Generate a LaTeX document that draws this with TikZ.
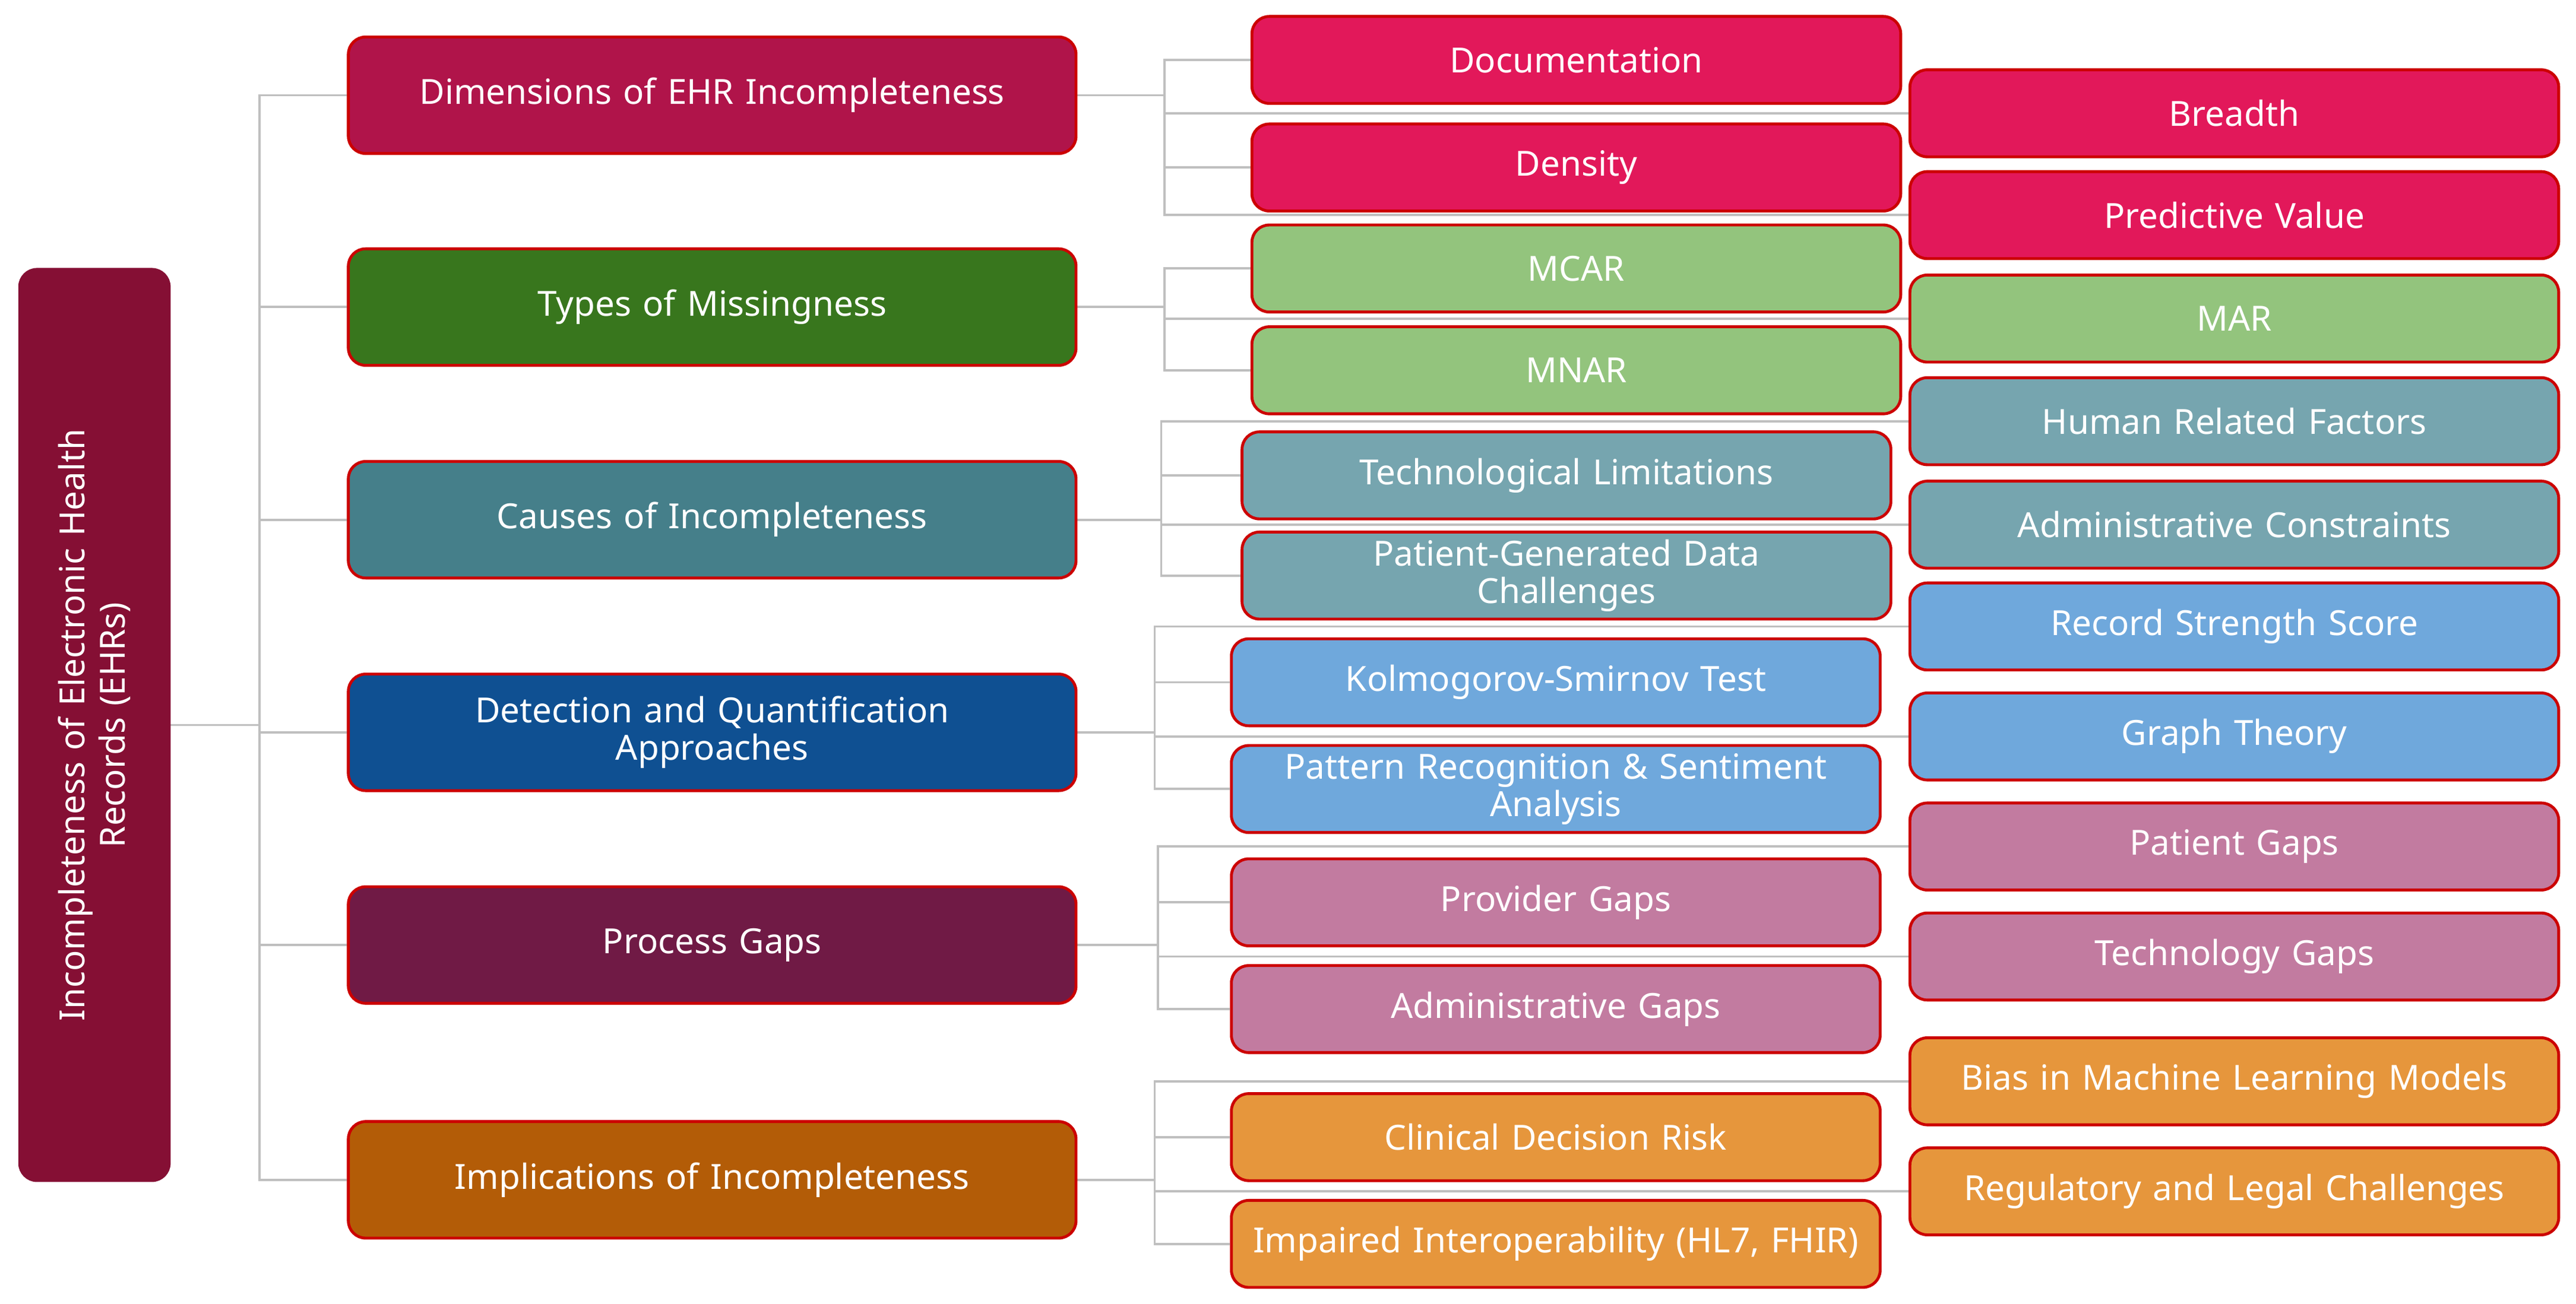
\documentclass[tikz,border=0pt]{standalone}
\usepackage{fontspec}
\setmainfont{Noto Sans}
\usetikzlibrary{backgrounds}
\begin{document}
\begin{tikzpicture}[x=0.02cm,y=-0.02cm,
 conn/.style={draw=black!25,line width=0.8pt},
 bx/.style={rounded corners=6pt,draw=#1,line width=1pt,text=white,align=center,font=\fontsize{12}{13}\selectfont,inner sep=1pt},
 l1/.style={bx=red!80!black,minimum width=8.86cm,minimum height=1.42cm,text width=8cm},
 l2/.style={bx=red!80!black,minimum width=7.9cm,minimum height=1.06cm,text width=7.6cm}]
\definecolor{cD}{HTML}{B0144A}\definecolor{cT}{HTML}{38761D}\definecolor{cC}{HTML}{457F8A}
\definecolor{cE}{HTML}{0F5092}\definecolor{cP}{HTML}{701A45}\definecolor{cI}{HTML}{B35C07}
\definecolor{kD}{HTML}{E2185A}\definecolor{kT}{HTML}{93C47D}\definecolor{kC}{HTML}{76A5AF}
\definecolor{kE}{HTML}{6FA8DC}\definecolor{kP}{HTML}{C27BA0}\definecolor{kI}{HTML}{E6963C}
\definecolor{root}{HTML}{850F34}
\useasboundingbox (0,0) rectangle (1568,794);
\node[bx=root,fill=root,rotate=90,minimum width=11.1cm,minimum height=1.82cm,text width=10.5cm,font=\bfseries\fontsize{12}{14}\selectfont] (r) at (57.5,441.5) {Incompleteness of Electronic Health\\Records (EHRs)};
% level 1
\node[l1,fill=cD] (a) at (433.5,58) {Dimensions of EHR Incompleteness};
\node[l1,fill=cT] (b) at (433.5,187) {Types of Missingness};
\node[l1,fill=cC] (c) at (433.5,316.5) {Causes of Incompleteness};
\node[l1,fill=cE] (d) at (433.5,446) {Detection and Quantification\\Approaches};
\node[l1,fill=cP] (e) at (433.5,575.5) {Process Gaps};
\node[l1,fill=cI] (f) at (433.5,718.5) {Implications of Incompleteness};
% level 2
\node[l2,fill=kD] (a1) at (959.5,36.5) {Documentation};
\node[l2,fill=kD] (a2) at (1360,69) {Breadth};
\node[l2,fill=kD] (a3) at (959.5,102) {Density};
\node[l2,fill=kD] (a4) at (1360,131) {Predictive Value};
\node[l2,fill=kT] (b1) at (959.5,163.5) {MCAR};
\node[l2,fill=kT] (b2) at (1360,194) {MAR};
\node[l2,fill=kT] (b3) at (959.5,225.5) {MNAR};
\node[l2,fill=kC] (c1) at (1360,256.5) {Human Related Factors};
\node[l2,fill=kC] (c2) at (953.5,289.5) {Technological Limitations};
\node[l2,fill=kC] (c3) at (1360,319.5) {Administrative Constraints};
\node[l2,fill=kC] (c4) at (953.5,350.5) {Patient-Generated Data\\Challenges};
\node[l2,fill=kE] (d1) at (1360,381.5) {Record Strength Score};
\node[l2,fill=kE] (d2) at (947,415.5) {Kolmogorov-Smirnov Test};
\node[l2,fill=kE] (d3) at (1360,448.5) {Graph Theory};
\node[l2,fill=kE] (d4) at (947,480.5) {Pattern Recognition \& Sentiment\\Analysis};
\node[l2,fill=kP] (e1) at (1360,515.5) {Patient Gaps};
\node[l2,fill=kP] (e2) at (947,549.5) {Provider Gaps};
\node[l2,fill=kP] (e3) at (1360,582.5) {Technology Gaps};
\node[l2,fill=kP] (e4) at (947,614.5) {Administrative Gaps};
\node[l2,fill=kI] (f1) at (1360,658.5) {Bias in Machine Learning Models};
\node[l2,fill=kI] (f2) at (947,692.5) {Clinical Decision Risk};
\node[l2,fill=kI] (f3) at (1360,725.5) {Regulatory and Legal Challenges};
\node[l2,fill=kI] (f4) at (947,757.5) {Impaired Interoperability (HL7, FHIR)};
% connectors
\begin{scope}[on background layer]
\foreach \p in {a,b,c,d,e,f}{\draw[conn] (r.south) -- ++(54,0) |- (\p.west);}
\foreach \p/\bx in {a/53,c/51,d/47,e/49,f/47}{
 \foreach \k in {1,2,3,4}{\draw[conn] (\p.east) -- ++(\bx,0) |- (\p\k.west);}}
\foreach \k in {1,2,3}{\draw[conn] (b.east) -- ++(53,0) |- (b\k.west);}
\end{scope}
\end{tikzpicture}
\end{document}
